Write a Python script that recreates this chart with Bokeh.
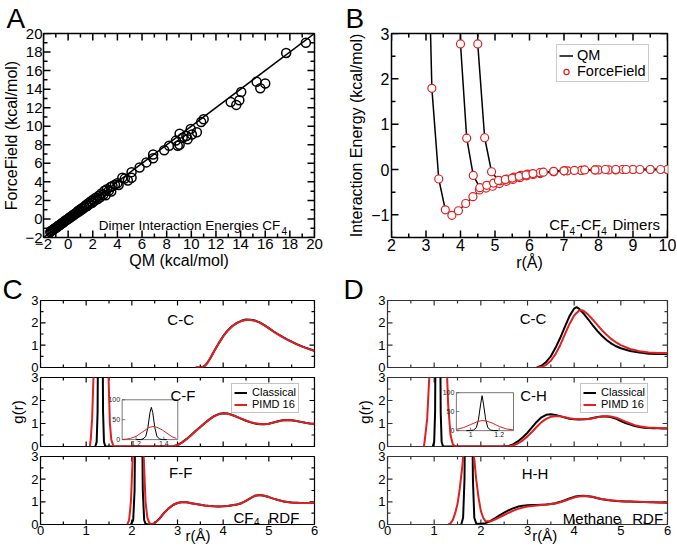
import numpy as np
from math import pi
from bokeh.plotting import figure
from bokeh.models import (Range1d, LinearAxis, SingleIntervalTicker, FixedTicker, Label,
                          Legend, LegendItem)
from bokeh.layouts import row, column
from bokeh.core.properties import value
from bokeh.embed import file_html
from bokeh.resources import INLINE

FONT = "Liberation Sans"
RED = "#e02020"

# ---------------- Panel A: dimer interaction energies ----------------
A_QM = [-1.45, -1.38, -1.30, -1.22, -1.15, -1.08, -1.00, -0.92, -0.85, -0.78, -0.70, -0.62,
        -0.55, -0.48, -0.40, -0.32, -0.25, -0.18, -0.10, -0.02, 0.05, 0.12, 0.20, 0.28, 0.35,
        0.42, 0.50, 0.58, 0.65, 0.72, 0.80, 0.88, 0.95, 1.05, 1.12, 1.20, 1.28, 1.35, 1.45,
        1.55, 1.65, 1.75, 1.85, 1.95, 2.05, 2.15, 2.25, 2.40, 2.50, 2.60, 2.70, 2.85, 2.95,
        3.05, 3.15, 3.30, 3.45, 3.50, 3.60, 3.80, 4.00, 4.10, 4.40, 4.60, 4.85, 5.15, 5.15,
        5.80, 6.35, 6.90, 6.90, 7.80, 8.20, 8.75, 8.90, 9.05, 9.05, 9.30, 9.60, 9.70, 9.95,
        10.05, 10.45, 10.80, 11.00, 13.20, 13.65, 13.90, 14.05, 15.30, 15.60, 16.00, 17.70, 19.30]
A_FF = [-1.40, -1.30, -1.22, -1.18, -1.08, -1.02, -0.95, -0.90, -0.78, -0.72, -0.68, -0.60,
        -0.50, -0.45, -0.38, -0.30, -0.20, -0.15, -0.08, 0.00, 0.05, 0.15, 0.18, 0.30, 0.32,
        0.45, 0.48, 0.60, 0.62, 0.70, 0.85, 0.80, 1.00, 0.95, 1.15, 1.10, 1.30, 1.25, 1.50,
        1.40, 1.70, 1.60, 1.90, 1.75, 2.10, 1.95, 2.30, 2.15, 2.50, 2.35, 2.75, 2.60, 3.05,
        2.55, 3.20, 3.05, 3.45, 2.95, 3.55, 3.70, 3.85, 3.65, 4.45, 4.35, 4.15, 4.45, 5.05,
        5.55, 6.10, 6.55, 6.95, 7.40, 7.90, 8.45, 7.90, 8.00, 9.20, 8.75, 8.95, 8.60, 9.70,
        9.10, 9.35, 10.45, 10.75, 12.60, 12.30, 12.80, 13.70, 14.80, 14.10, 14.60, 17.90, 19.00]
A_DIAG = [-2, 20]

# ---------------- Panel B: CF4-CF4 dimer scans ----------------
B_R1 = [3.10, 3.17, 3.37, 3.56, 3.75, 3.94, 4.15, 4.36, 4.55, 4.74, 4.93, 5.13, 5.33, 5.52,
        5.72, 5.92, 6.11, 6.31, 6.70, 7.10, 7.50, 7.90, 8.30, 8.70, 9.00, 9.50, 10.00]
B_E1 = [4.00, 1.79, -0.21, -0.89, -1.01, -0.91, -0.75, -0.60, -0.45, -0.41, -0.37, -0.31,
        -0.26, -0.22, -0.18, -0.14, -0.11, -0.09, -0.05, -0.03, -0.02, -0.01, -0.01, 0.00,
        0.00, 0.00, 0.00]
B_R2 = [3.985, 4.00, 4.18, 4.37, 4.56, 4.76, 4.96, 5.15, 5.35, 5.55, 5.75, 5.95, 6.30, 6.70,
        7.00, 7.50, 8.00, 8.50, 9.00, 9.50, 10.00]
B_E2 = [4.00, 2.77, 0.69, -0.13, -0.40, -0.35, -0.30, -0.25, -0.21, -0.17, -0.13, -0.10,
        -0.07, -0.05, -0.03, -0.02, -0.01, -0.01, 0.00, 0.00, 0.00]
B_R3 = [4.485, 4.50, 4.70, 4.90, 5.10, 5.30, 5.50, 5.70, 5.90, 6.10, 6.40, 6.70, 7.00, 7.30,
        7.60, 7.90, 8.20, 8.50, 8.80, 9.20, 9.80]
B_E3 = [4.00, 2.77, 0.70, -0.05, -0.24, -0.22, -0.19, -0.15, -0.12, -0.09, -0.06, -0.04,
        -0.03, -0.02, -0.01, -0.01, 0.00, 0.00, 0.00, 0.00, 0.00]

# ---------------- Panel C: CF4 RDFs ----------------
C_CC_R = [3.40, 3.50, 3.55, 3.60, 3.65, 3.70, 3.75, 3.80, 3.90, 4.00, 4.10, 4.20, 4.30, 4.40,
          4.50, 4.60, 4.70, 4.80, 4.90, 5.00, 5.10, 5.20, 5.30, 5.40, 5.50, 5.60, 5.70, 5.80,
          5.90, 6.00]
C_CC_CL = [0.00, 0.00, 0.02, 0.08, 0.20, 0.36, 0.54, 0.73, 1.08, 1.40, 1.66, 1.86, 2.00, 2.09,
           2.15, 2.14, 2.10, 2.02, 1.90, 1.76, 1.62, 1.49, 1.37, 1.26, 1.16, 1.06, 0.97, 0.89,
           0.82, 0.75]
C_CC_PI = [0.00, 0.00, 0.02, 0.07, 0.19, 0.35, 0.53, 0.72, 1.07, 1.39, 1.65, 1.85, 1.99, 2.08,
           2.13, 2.13, 2.09, 2.01, 1.89, 1.75, 1.61, 1.48, 1.36, 1.25, 1.15, 1.05, 0.96, 0.88,
           0.81, 0.74]

C_CF_CL_R = [1.20, 1.23, 1.25, 1.27, 1.285, 1.30, 1.31, 1.32, 1.335, 1.35, 1.37, 1.39, 1.42,
             2.80, 2.90, 3.00, 3.10, 3.20, 3.30, 3.40, 3.50, 3.60, 3.70, 3.80, 3.90, 4.00, 4.10,
             4.20, 4.30, 4.40, 4.50, 4.60, 4.70, 4.80, 4.90, 5.00, 5.10, 5.20, 5.30, 5.40, 5.50,
             5.60, 5.70, 5.80, 5.90, 6.00]
C_CF_CL = [0.0, 0.2, 1.5, 8.0, 30.0, 68.0, 81.0, 68.0, 30.0, 8.0, 1.5, 0.2, 0.0,
           0.00, 0.01, 0.06, 0.18, 0.33, 0.50, 0.68, 0.85, 1.02, 1.18, 1.32, 1.41, 1.45, 1.43,
           1.37, 1.29, 1.20, 1.12, 1.05, 1.00, 0.97, 0.97, 0.99, 1.04, 1.10, 1.14, 1.15, 1.14,
           1.11, 1.07, 1.03, 1.00, 0.99]
C_CF_PI_R = [1.08, 1.10, 1.13, 1.16, 1.20, 1.25, 1.29, 1.32, 1.35, 1.39, 1.43, 1.46, 1.49, 1.52,
             1.55, 1.60,
             2.80, 2.90, 3.00, 3.10, 3.20, 3.30, 3.40, 3.50, 3.60, 3.70, 3.80, 3.90, 4.00, 4.10,
             4.20, 4.30, 4.40, 4.50, 4.60, 4.70, 4.80, 4.90, 5.00, 5.10, 5.20, 5.30, 5.40, 5.50,
             5.60, 5.70, 5.80, 5.90, 6.00]
C_CF_PI = [0.0, 0.3, 1.2, 3.0, 8.0, 20.0, 30.0, 33.0, 31.0, 24.0, 14.0, 7.0, 3.0, 1.0, 0.3, 0.0,
           0.00, 0.01, 0.05, 0.17, 0.32, 0.49, 0.67, 0.85, 1.02, 1.18, 1.31, 1.40, 1.44, 1.43,
           1.37, 1.29, 1.21, 1.13, 1.06, 1.01, 0.98, 0.97, 0.99, 1.04, 1.09, 1.13, 1.15, 1.14,
           1.11, 1.07, 1.03, 1.00, 0.99]

C_FF_CL_R = [1.98, 2.03, 2.06, 2.09, 2.12, 2.15, 2.18, 2.21, 2.24, 2.27, 2.30, 2.35,
             2.45, 2.50, 2.60, 2.70, 2.80, 2.90, 3.00, 3.10, 3.20, 3.30, 3.40, 3.50, 3.60, 3.70,
             3.80, 3.90, 4.00, 4.10, 4.20, 4.30, 4.40, 4.50, 4.60, 4.70, 4.80, 4.90, 5.00, 5.10,
             5.20, 5.30, 5.40, 5.50, 5.60, 5.70, 5.80, 5.90, 6.00]
C_FF_CL = [0.0, 0.2, 1.5, 8.0, 25.0, 38.0, 25.0, 8.0, 1.5, 0.2, 0.03, 0.0,
           0.01, 0.06, 0.25, 0.50, 0.70, 0.86, 0.95, 0.99, 0.98, 0.94, 0.90, 0.87, 0.84, 0.82,
           0.80, 0.79, 0.80, 0.82, 0.85, 0.88, 0.94, 1.04, 1.16, 1.27, 1.30, 1.27, 1.21, 1.14,
           1.08, 1.03, 0.99, 0.97, 0.96, 0.95, 0.95, 0.95, 0.96]
C_FF_PI_R = [1.90, 1.94, 1.98, 2.02, 2.06, 2.10, 2.14, 2.18, 2.22, 2.26, 2.30, 2.34, 2.38, 2.42,
             2.50, 2.60, 2.70, 2.80, 2.90, 3.00, 3.10, 3.20, 3.30, 3.40, 3.50, 3.60, 3.70,
             3.80, 3.90, 4.00, 4.10, 4.20, 4.30, 4.40, 4.50, 4.60, 4.70, 4.80, 4.90, 5.00, 5.10,
             5.20, 5.30, 5.40, 5.50, 5.60, 5.70, 5.80, 5.90, 6.00]
C_FF_PI = [0.0, 0.2, 1.0, 3.0, 7.0, 12.0, 14.0, 12.0, 7.0, 3.0, 1.0, 0.3, 0.08, 0.02,
           0.05, 0.24, 0.49, 0.70, 0.86, 0.95, 0.99, 0.98, 0.94, 0.90, 0.87, 0.84, 0.82,
           0.80, 0.79, 0.80, 0.82, 0.85, 0.88, 0.94, 1.04, 1.16, 1.27, 1.30, 1.27, 1.21, 1.14,
           1.08, 1.03, 0.99, 0.97, 0.96, 0.95, 0.95, 0.95, 0.96]

# ---------------- Panel D: methane RDFs ----------------
D_CC_CL_R = [3.20, 3.30, 3.40, 3.50, 3.60, 3.70, 3.80, 3.90, 4.00, 4.05, 4.10, 4.20, 4.30, 4.40,
             4.50, 4.60, 4.70, 4.80, 4.90, 5.00, 5.20, 5.40, 5.60, 5.80, 6.00]
D_CC_CL = [0.00, 0.08, 0.25, 0.50, 0.88, 1.32, 1.82, 2.30, 2.64, 2.70, 2.64, 2.42, 2.16, 1.89,
           1.63, 1.41, 1.22, 1.07, 0.95, 0.86, 0.74, 0.67, 0.62, 0.60, 0.60]
D_CC_PI_R = [3.20, 3.30, 3.40, 3.50, 3.60, 3.70, 3.80, 3.90, 4.00, 4.10, 4.15, 4.20, 4.30, 4.40,
             4.50, 4.60, 4.70, 4.80, 4.90, 5.00, 5.20, 5.40, 5.60, 5.80, 6.00]
D_CC_PI = [0.00, 0.02, 0.12, 0.30, 0.60, 1.00, 1.48, 1.95, 2.33, 2.54, 2.57, 2.54, 2.37, 2.14,
           1.90, 1.66, 1.45, 1.27, 1.12, 1.00, 0.83, 0.73, 0.67, 0.65, 0.65]

D_CH_CL_R = [0.97, 1.00, 1.02, 1.04, 1.055, 1.07, 1.08, 1.09, 1.105, 1.12, 1.14, 1.16, 1.19,
             2.50, 2.60, 2.70, 2.80, 2.90, 3.00, 3.10, 3.20, 3.30, 3.40, 3.50, 3.60, 3.70, 3.80,
             3.90, 4.00, 4.10, 4.20, 4.30, 4.40, 4.50, 4.60, 4.70, 4.80, 4.90, 5.00, 5.10, 5.20,
             5.30, 5.40, 5.50, 5.60, 5.70, 5.80, 5.90, 6.00]
D_CH_CL = [0.0, 0.2, 1.5, 8.0, 30.0, 70.0, 92.0, 70.0, 30.0, 8.0, 1.5, 0.2, 0.0,
           0.00, 0.02, 0.10, 0.23, 0.40, 0.60, 0.84, 1.08, 1.27, 1.38, 1.40, 1.37, 1.32, 1.26,
           1.21, 1.18, 1.17, 1.18, 1.20, 1.24, 1.28, 1.30, 1.30, 1.27, 1.20, 1.11, 1.02, 0.95,
           0.89, 0.85, 0.82, 0.80, 0.79, 0.79, 0.78, 0.78]
D_CH_PI_R = [0.78, 0.80, 0.85, 0.90, 0.95, 1.00, 1.05, 1.08, 1.11, 1.15, 1.20, 1.25, 1.30, 1.35,
             1.40, 1.45,
             2.50, 2.60, 2.70, 2.80, 2.90, 3.00, 3.10, 3.20, 3.30, 3.40, 3.50, 3.60, 3.70, 3.80,
             3.90, 4.00, 4.10, 4.20, 4.30, 4.40, 4.50, 4.60, 4.70, 4.80, 4.90, 5.00, 5.10, 5.20,
             5.30, 5.40, 5.50, 5.60, 5.70, 5.80, 5.90, 6.00]
D_CH_PI = [0.0, 0.3, 1.2, 3.2, 8.0, 16.0, 24.0, 26.5, 25.5, 20.0, 11.0, 4.5, 1.8, 0.5, 0.1, 0.0,
           0.00, 0.01, 0.05, 0.14, 0.27, 0.44, 0.64, 0.86, 1.06, 1.20, 1.29, 1.32, 1.31, 1.27,
           1.23, 1.20, 1.18, 1.18, 1.20, 1.23, 1.27, 1.30, 1.31, 1.30, 1.25, 1.17, 1.08, 1.00,
           0.93, 0.88, 0.85, 0.82, 0.81, 0.80, 0.79, 0.79]

D_HH_CL_R = [1.58, 1.62, 1.65, 1.68, 1.71, 1.74, 1.77, 1.80, 1.83, 1.86, 1.90, 1.95,
             2.00, 2.10, 2.20, 2.30, 2.40, 2.50, 2.60, 2.70, 2.80, 2.90, 3.00, 3.10, 3.20, 3.30,
             3.40, 3.50, 3.60, 3.70, 3.80, 3.90, 4.00, 4.10, 4.20, 4.30, 4.40, 4.50, 4.60, 4.70,
             4.80, 4.90, 5.00, 5.10, 5.20, 5.30, 5.40, 5.50, 5.60, 5.70, 5.80, 5.90, 6.00]
D_HH_CL = [0.0, 0.3, 2.0, 9.0, 20.0, 26.0, 20.0, 9.0, 2.0, 0.3, 0.05, 0.03,
           0.03, 0.06, 0.15, 0.27, 0.40, 0.52, 0.63, 0.72, 0.79, 0.83, 0.85, 0.86, 0.86, 0.87,
           0.88, 0.90, 0.94, 1.00, 1.07, 1.15, 1.22, 1.26, 1.27, 1.25, 1.21, 1.16, 1.11, 1.08,
           1.06, 1.04, 1.03, 1.02, 1.01, 1.00, 0.99, 0.99, 0.98, 0.98, 0.97, 0.97, 0.96]
D_HH_PI_R = [1.30, 1.35, 1.40, 1.45, 1.50, 1.55, 1.60, 1.65, 1.70, 1.75, 1.80, 1.85, 1.90, 1.95,
             2.00, 2.05,
             2.10, 2.20, 2.30, 2.40, 2.50, 2.60, 2.70, 2.80, 2.90, 3.00, 3.10, 3.20, 3.30, 3.40,
             3.50, 3.60, 3.70, 3.80, 3.90, 4.00, 4.10, 4.20, 4.30, 4.40, 4.50, 4.60, 4.70, 4.80,
             4.90, 5.00, 5.10, 5.20, 5.30, 5.40, 5.50, 5.60, 5.70, 5.80, 5.90, 6.00]
D_HH_PI = [0.0, 0.05, 0.2, 0.5, 0.9, 1.6, 2.5, 3.6, 4.5, 4.8, 4.3, 3.1, 2.0, 1.2, 0.6, 0.3,
           0.15, 0.13, 0.22, 0.32, 0.42, 0.52, 0.61, 0.69, 0.75, 0.79, 0.82, 0.84, 0.86, 0.88,
           0.90, 0.93, 0.98, 1.05, 1.12, 1.19, 1.24, 1.26, 1.25, 1.22, 1.17, 1.12, 1.09, 1.06,
           1.05, 1.03, 1.02, 1.01, 1.00, 1.00, 0.99, 0.99, 0.98, 0.98, 0.97, 0.97]

# inset axis ranges and ticks
C_IN_X = (1.1, 1.5)
D_IN_X = (0.9, 1.3)
IN_Y = (0, 100)
C_IN_XT = [1.2, 1.4]
C_IN_XTL = ["1.2", "1.4"]
D_IN_XT = [1.0, 1.2]
D_IN_XTL = ["1", "1.2"]
IN_YT = [0, 50, 100]
IN_YTL = ["0", "50", "100"]


def make_fig(w, h, xr, yr, borders, color, lw):
    bl, br, bt, bb = borders
    p = figure(width=w, height=h, x_range=Range1d(xr[0], xr[1]), y_range=Range1d(yr[0], yr[1]),
               x_axis_type=None, y_axis_type=None, output_backend="svg", toolbar_location=None,
               min_border_left=bl, min_border_right=br, min_border_top=bt, min_border_bottom=bb)
    p.outline_line_color = color
    p.outline_line_width = lw
    p.background_fill_color = "white"
    p.border_fill_color = "white"
    return p


def label_axis(p, side, interval, fsize, standoff):
    ax = LinearAxis(ticker=SingleIntervalTicker(interval=interval, num_minor_ticks=2))
    ax.axis_line_color = None
    ax.major_tick_line_color = None
    ax.minor_tick_line_color = None
    ax.major_tick_in = 0
    ax.major_tick_out = 0
    ax.minor_tick_in = 0
    ax.minor_tick_out = 0
    ax.major_label_text_font = FONT
    ax.major_label_text_font_size = fsize
    ax.major_label_text_color = "black"
    ax.major_label_standoff = standoff
    p.add_layout(ax, side)
    return ax


def tick_positions(lo, hi, step):
    k0 = int(np.ceil(lo / step - 1e-9))
    k1 = int(np.floor(hi / step + 1e-9))
    return [k * step for k in range(k0, k1 + 1)]


def frame_ticks(p, xr, yr, xint, yint, color, lw, maj, mnr):
    xmaj = tick_positions(xr[0], xr[1], xint)
    ymaj = tick_positions(yr[0], yr[1], yint)
    xmin = [v for v in tick_positions(xr[0], xr[1], xint / 2) if min(abs(v - m) for m in xmaj) > 1e-6]
    ymin = [v for v in tick_positions(yr[0], yr[1], yint / 2) if min(abs(v - m) for m in ymaj) > 1e-6]
    kw = dict(length_units="screen", line_color=color, line_width=lw)
    for xs, L in ((xmaj, maj), (xmin, mnr)):
        p.ray(x=xs, y=[yr[0]] * len(xs), length=L, angle=pi / 2, **kw)
        p.ray(x=xs, y=[yr[1]] * len(xs), length=L, angle=-pi / 2, **kw)
    for ys, L in ((ymaj, maj), (ymin, mnr)):
        p.ray(x=[xr[0]] * len(ys), y=ys, length=L, angle=0, **kw)
        p.ray(x=[xr[1]] * len(ys), y=ys, length=L, angle=pi, **kw)


def axis_label(ax, text, size, standoff=2):
    ax.axis_label = text
    ax.axis_label_text_font = FONT
    ax.axis_label_text_font_size = size
    ax.axis_label_text_font_style = "normal"
    ax.axis_label_text_color = "black"
    ax.axis_label_standoff = standoff


def letter(p, s, offset, standoff):
    p.title.text = s
    p.title.text_font = FONT
    p.title.text_font_size = "28px"
    p.title.text_font_style = "normal"
    p.title.text_color = "black"
    p.title.align = "left"
    p.title.offset = offset
    p.title.standoff = standoff


def txt(p, x, y, s, size, align="left", baseline="alphabetic"):
    p.add_layout(Label(x=x, y=y, text=s, text_font=FONT, text_font_size=size,
                       text_align=align, text_baseline=baseline, text_color="black"))


def add_inset(p, fx, fy, xr, yr, rb, gb, rr, gr, xt, xtl, color):
    sx = (xr[1] - xr[0]) / (fx[1] - fx[0])
    x0 = xr[0] - fx[0] * sx
    sy = (yr[1] - yr[0]) / (fy[1] - fy[0])
    y0 = yr[0] - fy[0] * sy
    p.extra_x_ranges = {"ix": Range1d(x0, x0 + sx)}
    p.extra_y_ranges = {"iy": Range1d(y0, y0 + sy)}
    kw = dict(x_range_name="ix", y_range_name="iy")
    p.quad(left=[xr[0]], right=[xr[1]], bottom=[yr[0]], top=[yr[1]], fill_color="white",
           line_color=color, line_width=0.8, **kw)
    for r, g, c in ((rb, gb, "black"), (rr, gr, RED)):
        r = np.asarray(r, dtype=float)
        g = np.asarray(g, dtype=float)
        m = (r >= xr[0]) & (r <= xr[1])
        p.line(r[m], g[m], line_color=c, line_width=1, **kw)
    p.ray(x=xt, y=[yr[0]] * len(xt), length=3, angle=pi / 2, length_units="screen",
          line_color=color, line_width=0.8, **kw)
    p.ray(x=[xr[0]] * len(IN_YT), y=IN_YT, length=3, angle=0, length_units="screen",
          line_color=color, line_width=0.8, **kw)
    p.text(x=xt, y=[yr[0]] * len(xt), text=xtl, text_font=value(FONT), text_font_size="7px",
           text_align="center", text_baseline="top", y_offset=1, text_color="#222222", **kw)
    p.text(x=[xr[0]] * len(IN_YT), y=IN_YT, text=IN_YTL, text_font=value(FONT),
           text_font_size="7px", text_align="right", text_baseline="middle", x_offset=-2,
           text_color="#222222", **kw)


def rdf_fig(w, h, borders, color, show_x, rb, gb, rr, gr):
    p = make_fig(w, h, (0, 6), (0, 3), borders, color, 1.2)
    axes = {}
    if show_x:
        axes["below"] = label_axis(p, "below", 1, "13px", 1)
    axes["left"] = label_axis(p, "left", 1, "13px", 2)
    frame_ticks(p, (0, 6), (0, 3), 1, 1, color, 1.2, 5, 3)
    lb = p.line(rb, gb, line_color="black", line_width=2)
    lr = p.line(rr, gr, line_color=RED, line_width=2)
    return p, axes, lb, lr


def r_label(p, x):
    # a label-only axis that places the "r(Å)" title next to the tick labels
    ax = LinearAxis(ticker=FixedTicker(ticks=[x]), major_label_overrides={x: "r(Å)"})
    ax.axis_line_color = None
    ax.major_tick_line_color = None
    ax.minor_tick_line_color = None
    ax.major_tick_in = 0
    ax.major_tick_out = 0
    ax.minor_tick_in = 0
    ax.minor_tick_out = 0
    ax.major_label_text_font = FONT
    ax.major_label_text_font_size = "15px"
    ax.major_label_text_color = "black"
    ax.major_label_standoff = -11
    p.add_layout(ax, "below")


def style_legend(leg, fsize, gw, gh, standoff, pad):
    leg.label_text_font = FONT
    leg.label_text_font_size = fsize
    leg.label_text_color = "black"
    leg.glyph_width = gw
    leg.glyph_height = gh
    leg.label_height = gh
    leg.label_standoff = standoff
    leg.padding = pad
    leg.spacing = 0
    leg.margin = 0
    leg.border_line_color = "#888888"
    leg.border_line_width = 1
    leg.background_fill_color = "white"
    leg.background_fill_alpha = 1.0


def rdf_legend(p, lb, lr, loc):
    leg = Legend(items=[LegendItem(label="Classical", renderers=[lb]),
                        LegendItem(label="PIMD 16", renderers=[lr])],
                 location=loc)
    style_legend(leg, "11px", 13, 9, 5, 2)
    p.add_layout(leg)


W_L, W_R = 345, 331

# ---------------- A ----------------
pA = make_fig(W_L, 275, (-2, 20), (-2, 20), (40, 31, 33, 37), "black", 1.5)
axA_b = label_axis(pA, "below", 2, "15px", 1)
axA_l = label_axis(pA, "left", 2, "15px", 1)
axis_label(axA_b, "QM (kcal/mol)", "16px", 0)
axis_label(axA_l, "ForceField (kcal/mol)", "16px", 2)
frame_ticks(pA, (-2, 20), (-2, 20), 2, 2, "black", 1.5, 7, 4)
pA.line(A_DIAG, A_DIAG, line_color="black", line_width=1.5)
pA.scatter(A_QM, A_FF, marker="circle", size=9, fill_color=None, line_color="black", line_width=1.5)
txt(pA, 17.22, -0.66, "Dimer Interaction Energies CF", "13.5px", align="right")
txt(pA, 17.32, -1.25, "4", "10px")
letter(pA, "A", -37, 0)

# ---------------- B ----------------
pB = make_fig(W_R, 275, (2, 10), (-1.5, 3), (43, 9, 33, 38), "black", 1.5)
axB_b = label_axis(pB, "below", 1, "16px", 1)
axB_l = label_axis(pB, "left", 1, "16px", 2)
axis_label(axB_b, "r(Å)", "16px", 0)
axis_label(axB_l, "Interaction Energy (kcal/mol)", "16px", 3)
frame_ticks(pB, (2, 10), (-1.5, 3), 1, 1, "black", 1.5, 7, 4)
qm_lines, ff_pts = [], []
for r, e in ((B_R1, B_E1), (B_R2, B_E2), (B_R3, B_E3)):
    qm_lines.append(pB.line(r, e, line_color="black", line_width=1.5))
for r, e in ((B_R1, B_E1), (B_R2, B_E2), (B_R3, B_E3)):
    ff_pts.append(pB.scatter(r, e, marker="circle", size=8, fill_color="white",
                             line_color=RED, line_width=1.2))
legB = Legend(items=[LegendItem(label="QM", renderers=[qm_lines[0]]),
                     LegendItem(label="ForceField", renderers=[ff_pts[0]])],
              location=(165, 155))
style_legend(legB, "14.5px", 14, 13, 4, 2)
legB.border_line_color = "#999999"
pB.add_layout(legB)
txt(pB, 6.573, -1.22, "CF", "15px")
txt(pB, 7.16, -1.352, "4", "10px")
txt(pB, 7.347, -1.22, "-CF", "15px")
txt(pB, 8.077, -1.352, "4", "10px")
txt(pB, 9.78, -1.22, "Dimers", "15px", align="right")
letter(pB, "B", -46, 0)

# ---------------- C ----------------
c1, axc1, _, _ = rdf_fig(W_L, 97, (40, 31, 24, 5), "black", False, C_CC_R, C_CC_CL, C_CC_R, C_CC_PI)
c2, axc2, c2b, c2r = rdf_fig(W_L, 79, (40, 31, 5, 5), "black", False, C_CF_CL_R, C_CF_CL, C_CF_PI_R, C_CF_PI)
c3, axc3, _, _ = rdf_fig(W_L, 95, (40, 31, 5, 22), "black", True, C_FF_CL_R, C_FF_CL, C_FF_PI_R, C_FF_PI)
axis_label(axc2["left"], "g(r)", "15px", 2)
add_inset(c2, (0.298, 0.501), (0.10, 0.677), C_IN_X, IN_Y, C_CF_CL_R, C_CF_CL,
          C_CF_PI_R, C_CF_PI, C_IN_XT, C_IN_XTL, "#555555")
rdf_legend(c2, c2b, c2r, (191, 33))
txt(c1, 3.07, 2.15, "C-C", "15px", align="center")
txt(c2, 3.12, 2.22, "C-F", "15px", align="center")
txt(c3, 3.07, 2.31, "F-F", "15px", align="center")
txt(c3, 4.226, 0.32, "CF", "15px")
txt(c3, 4.675, 0.10, "4", "10px")
txt(c3, 4.992, 0.32, "RDF", "15px")
r_label(c3, 3.45)
letter(c1, "C", -38, -8)

# ---------------- D ----------------
DC = "#333333"
d1, axd1, _, _ = rdf_fig(W_R, 97, (42, 9, 24, 5), DC, False, D_CC_CL_R, D_CC_CL, D_CC_PI_R, D_CC_PI)
d2, axd2, d2b, d2r = rdf_fig(W_R, 79, (42, 9, 5, 5), DC, False, D_CH_CL_R, D_CH_CL, D_CH_PI_R, D_CH_PI)
d3, axd3, _, _ = rdf_fig(W_R, 95, (42, 9, 5, 22), DC, True, D_HH_CL_R, D_HH_CL, D_HH_PI_R, D_HH_PI)
axis_label(axd2["left"], "g(r)", "15px", 2)
add_inset(d2, (0.246, 0.45), (0.23, 0.78), D_IN_X, IN_Y, D_CH_CL_R, D_CH_CL,
          D_CH_PI_R, D_CH_PI, D_IN_XT, D_IN_XTL, "#555555")
rdf_legend(d2, d2b, d2r, (193, 33))
txt(d1, 3.12, 2.19, "C-C", "15px", align="center")
txt(d2, 3.13, 2.20, "C-H", "15px", align="center")
txt(d3, 3.16, 2.27, "H-H", "15px", align="center")
txt(d3, 3.757, 0.25, "Methane", "15px")
txt(d3, 5.244, 0.25, "RDF", "15px")
r_label(d3, 3.37)
letter(d1, "D", -44, -8)

layout = column(row(pA, pB), row(column(c1, c2, c3), column(d1, d2, d3)))

with open("out.html", "w") as f:
    f.write(file_html(layout, INLINE))
